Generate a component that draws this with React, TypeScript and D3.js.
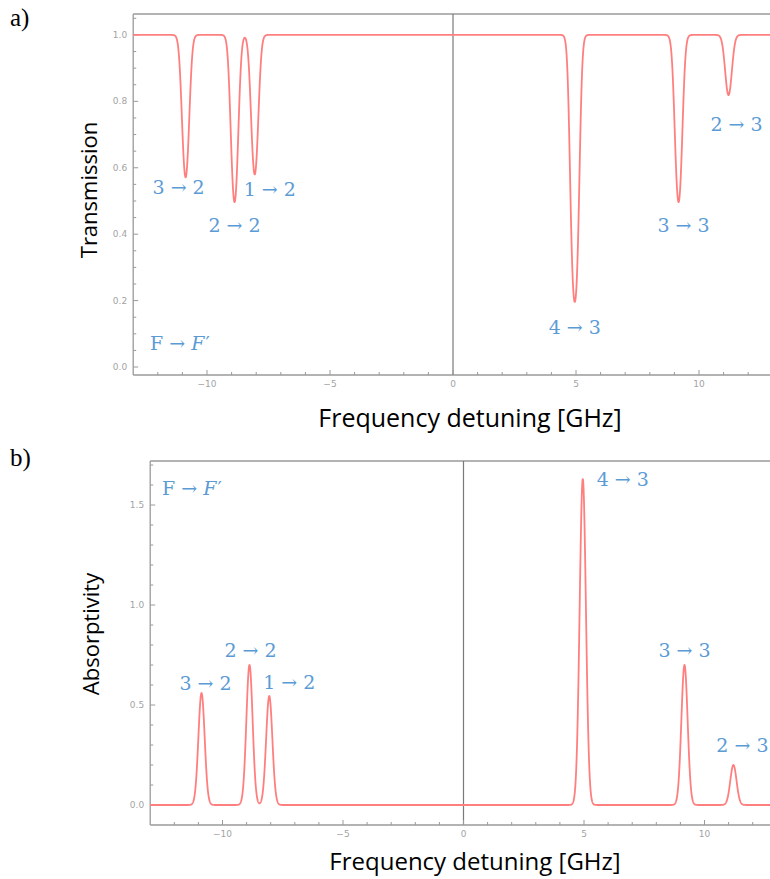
import React from 'react';
import * as d3 from 'd3';

// ---- data ----
const transitions = ['3 → 2', '2 → 2', '1 → 2', '4 → 3', '3 → 3', '2 → 3'];
const centersGHz = [-10.87, -8.88, -8.06, 4.95, 9.17, 11.2];
const peakAbsorptivity = [0.56, 0.7, 0.545, 1.63, 0.7, 0.2];
const dopplerSigmaGHz = 0.13;
const xTickValues = [-10, -5, 0, 5, 10];
const transYTickValues = [0, 0.2, 0.4, 0.6, 0.8, 1.0];
const absYTickValues = [0, 0.5, 1.0, 1.5];

// ---- layout (pixel offsets of labels from their peaks) ----
const labelOffsetsA = [
  [-7, 17], [0, 30], [15, 22], [0, 32], [5, 30], [8, 36],
];
const labelOffsetsB = [
  [4, -3], [1, -8], [20, -7], [40, 7], [0, -8], [9, -13],
];

const W = 770;
const H = 879;
const CURVE = '#ff7f7f';
const AXIS = '#9a9a9a';
const TICKTXT = '#a3a3a3';
const BLUE = '#5b9bd5';
const LABEL_FONT = "'DejaVu Serif', serif";
const TITLE_FONT = "'Open Sans', sans-serif";

const grid = d3.range(-13, 13.0001, 0.004);
function absorptivity(x: number) {
  let s = 0;
  for (let i = 0; i < centersGHz.length; i++) {
    const d = x - centersGHz[i];
    s += peakAbsorptivity[i] * Math.exp(-(d * d) / (2 * dopplerSigmaGHz * dopplerSigmaGHz));
  }
  return s;
}
const absData = grid.map((x) => [x, absorptivity(x)] as [number, number]);
const transData = absData.map(([x, a]) => [x, Math.exp(-a)] as [number, number]);

type PanelProps = {
  xRange: [number, number];
  yDomain: [number, number];
  yRange: [number, number];
  data: [number, number][];
  yMajor: number[];
  yMinorStep: number;
  yFmt: (v: number) => string;
  labelOffsets: number[][];
  peakValues: number[];
};

function Panel(p: PanelProps) {
  const x = d3.scaleLinear().domain([-13, 13]).range(p.xRange);
  const y = d3.scaleLinear().domain(p.yDomain).range(p.yRange);
  const left = p.xRange[0];
  const bottom = p.yRange[0];
  const top = p.yRange[1];
  const line = d3
    .line<[number, number]>()
    .x((d) => x(d[0]))
    .y((d) => y(d[1]));
  const xMinor = d3.range(-12, 14, 1).filter((v) => !xTickValues.includes(v));
  const yMinor = d3
    .range(0, p.yDomain[1] + 1e-9, p.yMinorStep)
    .filter((v) => !p.yMajor.some((m) => Math.abs(m - v) < 1e-6));
  return (
    <g>
      <line x1={left} x2={W} y1={top} y2={top} stroke={AXIS} strokeWidth={1.3} />
      <line x1={left} x2={left} y1={top} y2={bottom} stroke={AXIS} strokeWidth={1.3} />
      <line x1={left} x2={W} y1={bottom} y2={bottom} stroke={AXIS} strokeWidth={1.3} />
      <line x1={x(0)} x2={x(0)} y1={top} y2={bottom} stroke="#7a7a7a" strokeWidth={1.2} />
      {xTickValues.map((v) => (
        <g key={'xt' + v}>
          <line x1={x(v)} x2={x(v)} y1={bottom} y2={bottom - 5} stroke={AXIS} />
          <text x={x(v)} y={bottom + 12} fontSize={9} fill={TICKTXT} textAnchor="middle" fontFamily="'DejaVu Sans', sans-serif">
            {v < 0 ? '−' + Math.abs(v) : String(v)}
          </text>
        </g>
      ))}
      {xMinor.map((v) => (
        <line key={'xm' + v} x1={x(v)} x2={x(v)} y1={bottom} y2={bottom - 3} stroke={AXIS} />
      ))}
      {p.yMajor.map((v) => (
        <g key={'yt' + v}>
          <line x1={left} x2={left + 5} y1={y(v)} y2={y(v)} stroke={AXIS} />
          <text x={left - 6} y={y(v) + 3} fontSize={9} fill={TICKTXT} textAnchor="end" fontFamily="'DejaVu Sans', sans-serif">
            {p.yFmt(v)}
          </text>
        </g>
      ))}
      {yMinor.map((v) => (
        <line key={'ym' + v} x1={left} x2={left + 3} y1={y(v)} y2={y(v)} stroke={AXIS} />
      ))}
      <path d={line(p.data) || ''} fill="none" stroke={CURVE} strokeWidth={1.8} strokeLinejoin="round" />
      {transitions.map((t, i) => (
        <text
          key={t + i}
          x={x(centersGHz[i]) + p.labelOffsets[i][0]}
          y={y(p.peakValues[i]) + p.labelOffsets[i][1]}
          fontSize={19}
          fill={BLUE}
          textAnchor="middle"
          fontFamily={LABEL_FONT}
        >
          {t}
        </text>
      ))}
    </g>
  );
}

function FLabel({ x, y }: { x: number; y: number }) {
  return (
    <text x={x} y={y} fontSize={19} fill={BLUE} fontFamily={LABEL_FONT}>
      F → <tspan fontStyle="italic">F</tspan>
      <tspan dx={1}>′</tspan>
    </text>
  );
}

export default function App() {
  const transPeaks = peakAbsorptivity.map((a) => Math.exp(-a));
  return (
    <svg width={W} height={H} style={{ position: 'absolute', left: 0, top: 0, background: '#fff' }}>
      <rect width={W} height={H} fill="#fff" />
      <text x={10} y={26} fontSize={25} fontFamily="'Liberation Serif', serif" fill="#000">a)</text>
      <Panel
        xRange={[133.2, 772.8]}
        yDomain={[-0.024, 1.063]}
        yRange={[375, 14]}
        data={transData}
        yMajor={transYTickValues}
        yMinorStep={0.05}
        yFmt={(v) => v.toFixed(1)}
        labelOffsets={labelOffsetsA}
        peakValues={transPeaks}
      />
      <FLabel x={150} y={350} />
      <text transform="translate(97,190) rotate(-90)" textAnchor="middle" fontSize={22} fontFamily={TITLE_FONT} fill="#000">
        Transmission
      </text>
      <text x={470} y={427} textAnchor="middle" fontSize={25} fontFamily={TITLE_FONT} fill="#000">
        Frequency detuning [GHz]
      </text>

      <text x={10} y={466} fontSize={25} fontFamily="'Liberation Serif', serif" fill="#000">b)</text>
      <Panel
        xRange={[150.2, 776.8]}
        yDomain={[-0.1, 1.72]}
        yRange={[825, 461]}
        data={absData}
        yMajor={absYTickValues}
        yMinorStep={0.1}
        yFmt={(v) => v.toFixed(1)}
        labelOffsets={labelOffsetsB}
        peakValues={peakAbsorptivity}
      />
      <FLabel x={162} y={495} />
      <text transform="translate(99,634) rotate(-90)" textAnchor="middle" fontSize={22} fontFamily={TITLE_FONT} fill="#000">
        Absorptivity
      </text>
      <text x={475} y={870} textAnchor="middle" fontSize={24} fontFamily={TITLE_FONT} fill="#000">
        Frequency detuning [GHz]
      </text>
    </svg>
  );
}
